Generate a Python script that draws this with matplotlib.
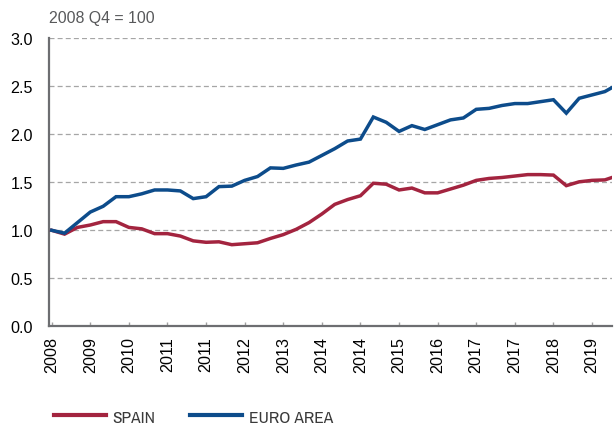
import matplotlib
matplotlib.use("Agg")
import matplotlib.pyplot as plt
import numpy as np

# ── Data (quarterly, 2008 Q4 = 1.0) ─────────────────────────────────
spain = [1.00, 0.96, 1.03, 1.055, 1.09, 1.09, 1.03, 1.015, 0.965, 0.965,
         0.94, 0.89, 0.875, 0.88, 0.85, 0.86, 0.87, 0.915, 0.955, 1.01,
         1.08, 1.17, 1.27, 1.32, 1.36, 1.49, 1.48, 1.42, 1.44, 1.39,
         1.39, 1.43, 1.47, 1.52, 1.54, 1.55, 1.565, 1.58, 1.58, 1.575,
         1.465, 1.505, 1.52, 1.525, 1.57]
euro_area = [1.00, 0.97, 1.08, 1.19, 1.25, 1.35, 1.35, 1.38, 1.42, 1.42,
             1.41, 1.33, 1.35, 1.455, 1.46, 1.52, 1.56, 1.65, 1.645, 1.68,
             1.71, 1.78, 1.85, 1.93, 1.95, 2.18, 2.125, 2.03, 2.09, 2.05,
             2.10, 2.15, 2.17, 2.26, 2.27, 2.30, 2.32, 2.32, 2.34, 2.36,
             2.22, 2.375, 2.41, 2.445, 2.52]
tick_labels = ["2008", "2009", "2010", "2011", "2011", "2012", "2013", "2014",
               "2014", "2015", "2016", "2017", "2017", "2018", "2019"]
series_names = ["SPAIN", "EURO AREA"]

C = {
    "spain": "#a3243f",
    "euro": "#0d4c8b",
    "spine": "#6d6e71",
    "grid": "#a6a6a6",
    "note": "#58595b",
}

plt.rcParams["font.family"] = ["Liberation Sans", "DejaVu Sans"]

fig = plt.figure(figsize=(6.14, 4.27), dpi=100)
ax = fig.add_axes([0.0798, 0.2335, 0.9169, 0.6745])

x = np.arange(len(spain))
ax.plot(x, spain, color=C["spain"], lw=2.5, solid_joinstyle="miter", zorder=3)
ax.plot(x, euro_area, color=C["euro"], lw=2.5, solid_joinstyle="miter", zorder=3)

ax.set_xlim(-0.21, 43.55)
ax.set_ylim(0, 3.0)
ax.set_yticks(np.arange(0, 3.01, 0.5))
ax.set_yticklabels([f"{v:.1f}" for v in np.arange(0, 3.01, 0.5)])
ax.set_xticks(np.arange(0, 3 * len(tick_labels), 3))
ax.set_xticklabels(tick_labels, rotation=90)

ax.tick_params(axis="y", length=0, pad=11.5, labelsize=11.6, colors="black")
ax.tick_params(axis="x", direction="in", length=3, width=1, color="#a0a0a0",
               pad=7, labelsize=11.6, labelcolor="black")

for y in np.arange(0.5, 3.01, 0.5):
    ax.axhline(y, color=C["grid"], lw=0.9, ls=(0, (4, 2.5)), zorder=1)

for s in ["top", "right"]:
    ax.spines[s].set_visible(False)
for s in ["left", "bottom"]:
    ax.spines[s].set_color(C["spine"])
    ax.spines[s].set_linewidth(1.6)

fig.text(49 / 614, 1 - 18.7 / 427, "2008 Q4 = 100", fontsize=11.4,
         color=C["note"], ha="left", va="center")

handles = [plt.Line2D([], [], color=C["spain"], lw=3),
           plt.Line2D([], [], color=C["euro"], lw=3)]
fig.legend(handles, series_names, loc="center left",
           bbox_to_anchor=(0.062, 1 - 418 / 427), ncol=2, frameon=False,
           handlelength=3.0, handletextpad=0.4, columnspacing=1.95,
           prop={"family": ["Liberation Sans Narrow", "Archivo Narrow",
                            "Liberation Sans"], "size": 12.5},
           labelcolor="#3a3a3a")

fig.savefig("out.png", dpi=100, facecolor="white")
